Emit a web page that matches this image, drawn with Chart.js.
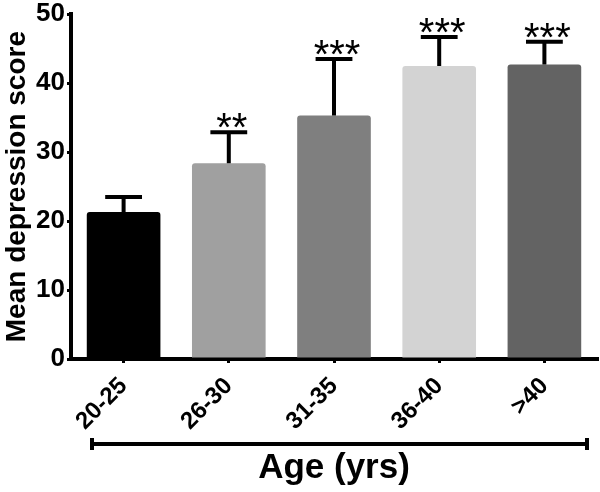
<!DOCTYPE html>
<html>
<head>
<meta charset="utf-8">
<script src="https://cdn.jsdelivr.net/npm/chart.js@4"></script>
<style>
  body { margin: 0; background: #fff; }
</style>
</head>
<body>
<canvas id="myChart" width="600" height="492"></canvas>
<script>
const ageGroups = ["20-25", "26-30", "31-35", "36-40", ">40"];
const meanScores = [21.3, 28.4, 35.3, 42.5, 42.7];
const errorUp = [2.2, 4.5, 8.2, 4.2, 3.3];
const stars = ["", "**", "***", "***", "***"];
const barColors = ["#000000", "#a0a0a0", "#7f7f7f", "#d3d3d3", "#636363"];

const FONT = "'Liberation Sans', Arial, sans-serif";

// error bars, significance stars and the bracket under the x labels
const extras = {
  id: "extras",
  afterDatasetsDraw(chart) {
    const ctx = chart.ctx;
    const y = chart.scales.y;
    const bars = chart.getDatasetMeta(0).data;
    ctx.save();
    ctx.strokeStyle = "#000";
    ctx.lineWidth = 4;
    bars.forEach((bar, i) => {
      const top = y.getPixelForValue(meanScores[i] + errorUp[i]);
      ctx.beginPath();
      ctx.moveTo(bar.x, bar.y);
      ctx.lineTo(bar.x, top);
      ctx.moveTo(bar.x - bar.width / 4, top);
      ctx.lineTo(bar.x + bar.width / 4, top);
      ctx.stroke();
      if (stars[i]) {
        ctx.fillStyle = "#000";
        ctx.font = "40px " + FONT;
        ctx.textAlign = "center";
        ctx.textBaseline = "alphabetic";
        ctx.fillText(stars[i], bar.x + 3, top + 9);
      }
    });
    // bracket
    const area = chart.chartArea;
    const by = area.bottom + 85;
    const x1 = area.left + 21;
    const x2 = area.right - 10;
    ctx.lineWidth = 4;
    ctx.beginPath();
    ctx.moveTo(x1, by);
    ctx.lineTo(x2, by);
    ctx.moveTo(x1, by - 6);
    ctx.lineTo(x1, by + 6);
    ctx.moveTo(x2, by - 6);
    ctx.lineTo(x2, by + 6);
    ctx.stroke();
    ctx.restore();
  },
};

const newChart = document.getElementById("myChart").getContext("2d");
const myChart = new Chart(newChart, {
  type: "bar",
  data: {
    labels: ageGroups,
    datasets: [
      {
        data: meanScores,
        backgroundColor: barColors,
        borderRadius: 3,
        barPercentage: 0.7,
        categoryPercentage: 1.0,
      },
    ],
  },
  options: {
    responsive: false,
    animation: false,
    layout: { padding: { top: 0, right: 3, left: 0, bottom: 0 } },
    plugins: {
      legend: { display: false },
      tooltip: { enabled: false },
    },
    scales: {
      x: {
        afterFit(scale) {
          scale.height = 133;
        },
        grid: {
          drawOnChartArea: false,
          offset: false,
          tickLength: 4,
          lineWidth: 3,
          color: "#000",
        },
        border: { width: 4, color: "#000" },
        ticks: {
          color: "#000",
          autoSkip: false,
          minRotation: 45,
          maxRotation: 45,
          padding: 9,
          font: { family: FONT, size: 24, weight: "bold" },
        },
        title: {
          display: true,
          text: "Age (yrs)",
          color: "#000",
          padding: { top: 0, bottom: 3 },
          font: { family: FONT, size: 35, weight: "bold" },
        },
      },
      y: {
        min: 0,
        max: 50,
        afterFit(scale) {
          scale.width = 71;
        },
        grid: {
          drawOnChartArea: false,
          tickLength: 4,
          lineWidth: 3,
          color: "#000",
        },
        border: { width: 4, color: "#000" },
        ticks: {
          stepSize: 10,
          color: "#000",
          padding: 2,
          font: { family: FONT, size: 26, weight: "bold", lineHeight: 0.94 },
        },
        title: {
          display: true,
          text: "Mean depression score",
          color: "#000",
          padding: { top: 0, bottom: 0 },
          font: { family: FONT, size: 28, weight: "bold" },
        },
      },
    },
  },
  plugins: [extras],
});
</script>
</body>
</html>
